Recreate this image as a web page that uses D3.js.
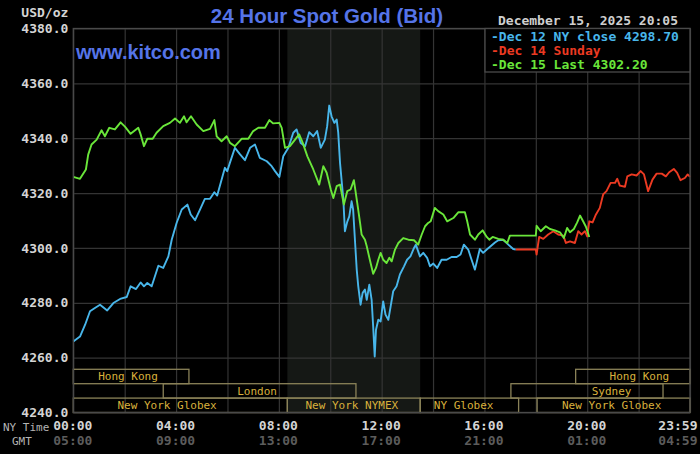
<!DOCTYPE html>
<html>
<head>
<meta charset="utf-8">
<title>24 Hour Spot Gold (Bid)</title>
<script src="https://d3js.org/d3.v7.min.js"></script>
<style>
  html, body { margin: 0; padding: 0; background: #000; }
  svg { display: block; }
</style>
</head>
<body>
<div id="chart"></div>
<script>
// values: [hour of NY day, price]
var dec12 = [
  [0, 4265.9], [0.26, 4267.7], [0.46, 4272.0], [0.65, 4276.9], [0.84, 4278.1], [1.04, 4279.3],
  [1.32, 4277.2], [1.56, 4279.9], [1.82, 4281.4], [2.08, 4282.1], [2.23, 4286.0], [2.44, 4285.0],
  [2.62, 4287.4], [2.75, 4286.0], [2.88, 4287.2], [3.05, 4286.0], [3.31, 4293.5], [3.50, 4292.7],
  [3.70, 4296.9], [3.83, 4303.0], [4.02, 4309.1], [4.22, 4314.0], [4.44, 4315.8], [4.57, 4312.2],
  [4.74, 4310.1], [4.93, 4314.0], [5.12, 4317.9], [5.32, 4317.9], [5.49, 4320.3], [5.60, 4319.1],
  [5.77, 4324.9], [5.90, 4329.2], [5.99, 4328.0], [6.10, 4331.2], [6.29, 4336.5], [6.49, 4334.1],
  [6.68, 4332.0], [6.88, 4336.5], [7.07, 4337.7], [7.26, 4332.8], [7.53, 4331.6], [7.72, 4329.8],
  [7.85, 4328.0], [8.02, 4325.9], [8.17, 4333.4], [8.37, 4336.5], [8.56, 4342.0], [8.69, 4343.2],
  [8.85, 4338.3], [9.02, 4337.1], [9.18, 4342.2], [9.34, 4340.7], [9.49, 4342.6], [9.63, 4336.5],
  [9.79, 4339.5], [9.88, 4344.4], [9.96, 4351.9], [10.05, 4348.0], [10.16, 4345.6], [10.25, 4346.8],
  [10.31, 4342.0], [10.38, 4331.0], [10.51, 4317.6], [10.57, 4306.1], [10.66, 4309.5], [10.74, 4311.5],
  [10.83, 4317.0], [10.89, 4314.0], [10.96, 4303.0], [11.03, 4292.1], [11.09, 4286.0], [11.18, 4279.3],
  [11.26, 4283.6], [11.35, 4284.8], [11.42, 4281.1], [11.52, 4286.6], [11.61, 4281.1], [11.67, 4271.4],
  [11.73, 4260.4], [11.78, 4270.2], [11.87, 4273.8], [11.96, 4273.2], [12.06, 4280.5], [12.15, 4275.7],
  [12.26, 4273.8], [12.35, 4278.7], [12.45, 4284.2], [12.58, 4286.0], [12.71, 4290.3], [12.87, 4293.3],
  [12.99, 4295.7], [13.12, 4296.9], [13.26, 4300.0], [13.33, 4301.2], [13.49, 4296.9], [13.62, 4298.2],
  [13.77, 4296.4], [13.88, 4293.3], [14.01, 4294.3], [14.16, 4292.7], [14.33, 4295.7], [14.53, 4295.7],
  [14.72, 4296.7], [14.92, 4296.7], [15.07, 4297.6], [15.20, 4301.2], [15.37, 4299.4], [15.50, 4295.7],
  [15.63, 4292.1], [15.72, 4295.7], [15.82, 4299.6], [15.95, 4298.2], [16.09, 4299.4], [16.24, 4300.6],
  [16.41, 4302.0], [16.54, 4302.8], [16.73, 4303.0], [16.93, 4301.2], [17.12, 4299.6], [17.22, 4299.4]
];

var dec14 = [
  [17.22, 4299.4], [18.00, 4299.4], [18.03, 4297.6], [18.13, 4304.0], [18.29, 4303.3], [18.48, 4304.9],
  [18.68, 4306.1], [18.87, 4304.9], [19.07, 4304.5], [19.17, 4301.8], [19.33, 4302.4], [19.52, 4301.8],
  [19.65, 4306.1], [19.78, 4304.9], [19.91, 4306.1], [20.00, 4304.2], [20.08, 4309.7], [20.21, 4309.3],
  [20.34, 4312.2], [20.49, 4314.6], [20.62, 4319.5], [20.75, 4320.7], [20.91, 4323.7], [21.08, 4323.7],
  [21.17, 4325.2], [21.27, 4322.7], [21.47, 4322.3], [21.56, 4326.1], [21.73, 4326.8], [21.92, 4326.4],
  [22.08, 4328.0], [22.21, 4326.8], [22.37, 4320.7], [22.54, 4324.9], [22.70, 4327.1], [22.90, 4327.1],
  [23.06, 4326.1], [23.19, 4327.6], [23.37, 4328.8], [23.50, 4327.4], [23.63, 4324.7], [23.80, 4325.5],
  [23.91, 4326.8], [24.0, 4325.9]
];

var dec15 = [
  [0, 4325.9], [0.26, 4325.2], [0.49, 4328.6], [0.58, 4334.0], [0.71, 4337.7], [0.91, 4339.5],
  [1.10, 4342.9], [1.23, 4340.7], [1.40, 4343.8], [1.62, 4343.2], [1.84, 4345.8], [2.01, 4344.2],
  [2.23, 4341.6], [2.53, 4343.8], [2.62, 4341.4], [2.75, 4337.1], [2.88, 4339.8], [3.09, 4339.8],
  [3.24, 4342.0], [3.50, 4344.4], [3.76, 4345.6], [3.96, 4347.2], [4.15, 4345.6], [4.31, 4348.0],
  [4.41, 4345.8], [4.58, 4348.0], [4.80, 4345.0], [5.06, 4342.6], [5.32, 4343.4], [5.49, 4346.6],
  [5.58, 4340.7], [5.77, 4338.9], [5.97, 4340.7], [6.10, 4338.3], [6.29, 4337.1], [6.55, 4339.8],
  [6.81, 4339.8], [7.00, 4342.6], [7.20, 4343.8], [7.46, 4343.8], [7.63, 4346.6], [7.78, 4345.4],
  [8.02, 4345.6], [8.11, 4343.8], [8.24, 4336.5], [8.43, 4337.1], [8.63, 4339.5], [8.79, 4341.4],
  [8.93, 4338.3], [9.11, 4333.4], [9.34, 4328.6], [9.57, 4323.1], [9.73, 4329.8], [9.86, 4327.4],
  [10.02, 4321.3], [10.12, 4318.2], [10.25, 4322.5], [10.38, 4323.1], [10.53, 4315.8], [10.66, 4320.7],
  [10.79, 4321.3], [10.92, 4324.7], [11.05, 4316.4], [11.16, 4309.1], [11.22, 4304.9], [11.35, 4303.0],
  [11.42, 4300.6], [11.54, 4295.7], [11.67, 4290.6], [11.78, 4292.7], [11.87, 4295.7], [11.96, 4298.2],
  [12.06, 4295.7], [12.19, 4294.5], [12.30, 4296.4], [12.39, 4295.1], [12.52, 4299.4], [12.65, 4301.8],
  [12.84, 4303.6], [13.04, 4303.0], [13.26, 4302.8], [13.42, 4301.2], [13.56, 4304.9], [13.69, 4307.9],
  [13.81, 4309.1], [13.91, 4309.7], [14.07, 4314.6], [14.20, 4313.4], [14.40, 4312.2], [14.55, 4309.7],
  [14.79, 4310.9], [14.98, 4313.0], [15.24, 4313.0], [15.33, 4309.7], [15.44, 4304.9], [15.63, 4303.0],
  [15.76, 4304.9], [15.93, 4306.4], [16.09, 4304.0], [16.19, 4303.0], [16.32, 4304.0], [16.54, 4303.3],
  [16.73, 4303.0], [16.89, 4301.8], [16.99, 4304.5], [18.00, 4304.5], [18.03, 4308.1], [18.19, 4306.1],
  [18.39, 4307.9], [18.55, 4306.9], [18.74, 4306.4], [18.94, 4305.7], [19.09, 4303.6], [19.22, 4307.3],
  [19.33, 4305.7], [19.48, 4306.9], [19.61, 4309.3], [19.72, 4311.8], [19.84, 4309.7], [19.95, 4307.7],
  [20.08, 4304.0]
];

var legendLabels = ["Dec 12 NY close 4298.70", "Dec 14 Sunday", "Dec 15 Last 4302.20"];
var nyTimeTicks = [0, 4, 8, 12, 16, 20, 24];
var nyTimeLabels = ["00:00", "04:00", "08:00", "12:00", "16:00", "20:00", "23:59"];
var gmtLabels = ["05:00", "09:00", "13:00", "17:00", "21:00", "01:00", "04:59"];
var priceTicks = [4240, 4260, 4280, 4300, 4320, 4340, 4360, 4380];

// trading sessions: row, start hour, end hour, name, hour the name is centred on
var sessions = [
  [0, 0, 4.5, "Hong Kong", 2.13],
  [0, 19.55, 24, "Hong Kong", 22.03],
  [1, 3.5, 11.0, "London", 7.15],
  [1, 17.03, 22.95, "Sydney", 20.95],
  [2, 0, 8.33, "New York Globex", 3.65],
  [2, 8.33, 13.5, "New York NYMEX", 10.84],
  [2, 13.5, 17.33, "NY Globex", 15.19],
  [2, 18.05, 24, "New York Globex", 20.95]
];
var nymexHours = [8.33, 13.5];

var width = 700, height = 454;
var plotL = 73.3, plotR = 690, plotT = 28.5, plotB = 412.5;
var mono = "'DejaVu Sans Mono', monospace";
var lineColors = ["#48b6ea", "#ec3a22", "#6ae63a"];

var svg = d3.select("#chart").append("svg")
  .attr("width", width)
  .attr("height", height)
  .style("background", "#000");

var x = d3.scaleLinear().domain([0, 24]).range([plotL, plotR]);
var y = d3.scaleLinear().domain([4240, 4380]).range([plotB, plotT]);

// NYMEX session shading
svg.append("rect")
  .attr("x", x(nymexHours[0]))
  .attr("y", plotT)
  .attr("width", x(nymexHours[1]) - x(nymexHours[0]))
  .attr("height", plotB - plotT)
  .attr("fill", "#151815");

// grid
var xGrid = svg.append("g")
  .attr("transform", "translate(0," + plotB + ")")
  .call(d3.axisBottom(x).tickValues(d3.range(0, 25, 2)).tickSize(-(plotB - plotT)).tickFormat(""));
var yGrid = svg.append("g")
  .attr("transform", "translate(" + plotL + ",0)")
  .call(d3.axisLeft(y).tickValues(priceTicks).tickSize(-(plotR - plotL)).tickFormat(""));
[xGrid, yGrid].forEach(function (g) {
  g.select(".domain").remove();
  g.selectAll(".tick line").attr("stroke", "#343434").attr("stroke-width", 1.2);
});

// session bars
var rowTop = 369.3, rowH = 14.4;
var sess = svg.append("g");
sess.selectAll("rect")
  .data(sessions)
  .enter().append("rect")
  .attr("x", function (d) { return x(d[1]); })
  .attr("y", function (d) { return rowTop + d[0] * rowH; })
  .attr("width", function (d) { return x(d[2]) - x(d[1]); })
  .attr("height", rowH)
  .attr("fill", "none")
  .attr("stroke", "#8a8258")
  .attr("stroke-width", 1.3);
sess.selectAll("text")
  .data(sessions)
  .enter().append("text")
  .attr("x", function (d) { return x(d[4]); })
  .attr("y", function (d) { return rowTop + (d[0] + 1) * rowH - 3.6; })
  .attr("text-anchor", "middle")
  .attr("font-family", mono)
  .attr("font-size", "11px")
  .attr("fill", "#d9b13c")
  .text(function (d) { return d[3]; });

// price lines
var line = d3.line()
  .x(function (d) { return x(d[0]); })
  .y(function (d) { return y(d[1]); });
[dec12, dec14, dec15].forEach(function (s, i) {
  svg.append("path")
    .datum(s)
    .attr("d", line)
    .attr("fill", "none")
    .attr("stroke", lineColors[i])
    .attr("stroke-width", 1.9)
    .attr("stroke-linejoin", "round");
});

// plot frame
svg.append("rect")
  .attr("x", plotL).attr("y", plotT)
  .attr("width", plotR - plotL).attr("height", plotB - plotT)
  .attr("fill", "none")
  .attr("stroke", "#4a4a4a")
  .attr("stroke-width", 1.3);

// y axis labels
var yAxis = svg.append("g")
  .attr("transform", "translate(" + (plotL - 5) + ",0)")
  .call(d3.axisLeft(y).tickValues(priceTicks).tickSize(0).tickPadding(0).tickFormat(d3.format(".1f")));
yAxis.select(".domain").remove();
yAxis.selectAll("text")
  .attr("font-family", mono)
  .attr("font-size", "13px")
  .attr("font-weight", "bold")
  .attr("fill", "#d4d4d4");

svg.append("text")
  .attr("x", plotL - 5).attr("y", 16.5)
  .attr("text-anchor", "end")
  .attr("font-family", mono).attr("font-size", "13px").attr("font-weight", "bold")
  .attr("fill", "#d4d4d4")
  .text("USD/oz");

// x axis labels (NY time and GMT)
function timeAxis(labels, dy, color) {
  var g = svg.append("g")
    .attr("transform", "translate(-1," + (plotB + dy) + ")")
    .call(d3.axisBottom(x).tickValues(nyTimeTicks).tickSize(0).tickPadding(0)
      .tickFormat(function (d, i) { return labels[i]; }));
  g.select(".domain").remove();
  g.selectAll("text")
    .attr("dy", 0)
    .attr("font-family", mono)
    .attr("font-size", "13px")
    .attr("font-weight", "bold")
    .attr("fill", color);
  g.selectAll(".tick").filter(function (d) { return d === 24; })
    .select("text").attr("text-anchor", "end").attr("x", 8);
}
timeAxis(nyTimeLabels, 17.5, "#d4d4d4");
timeAxis(gmtLabels, 32.5, "#5c5c5c");

svg.append("text")
  .attr("x", 3).attr("y", 431)
  .attr("font-family", mono).attr("font-size", "11px")
  .attr("fill", "#b4b4b4")
  .text("NY Time");
svg.append("text")
  .attr("x", 12).attr("y", 445)
  .attr("font-family", mono).attr("font-size", "11px")
  .attr("fill", "#b4b4b4")
  .text("GMT");

// titles
svg.append("text")
  .attr("x", 327).attr("y", 22.5)
  .attr("text-anchor", "middle")
  .attr("font-family", "'Liberation Sans', Arial, sans-serif")
  .attr("font-size", "20.5px")
  .attr("font-weight", "bold")
  .attr("fill", "#5574e8")
  .text("24 Hour Spot Gold (Bid)");

svg.append("text")
  .attr("x", 76).attr("y", 59)
  .attr("font-family", "'Liberation Sans', Arial, sans-serif")
  .attr("font-size", "20px")
  .attr("font-weight", "bold")
  .attr("fill", "#5574e8")
  .text("www.kitco.com");

svg.append("text")
  .attr("x", 678).attr("y", 24.5)
  .attr("text-anchor", "end")
  .attr("font-family", mono).attr("font-size", "13px").attr("font-weight", "bold")
  .attr("fill", "#cfcfcf")
  .text("December 15, 2025 20:05");

// legend
svg.append("rect")
  .attr("x", 485).attr("y", plotT)
  .attr("width", plotR - 485).attr("height", 43.5)
  .attr("fill", "#000")
  .attr("stroke", "#4a4a4a")
  .attr("stroke-width", 1.3);
svg.append("g").selectAll("text")
  .data(legendLabels)
  .enter().append("text")
  .attr("x", 491)
  .attr("y", function (d, i) { return 40.5 + i * 14; })
  .attr("font-family", mono).attr("font-size", "13px").attr("font-weight", "bold")
  .attr("fill", function (d, i) { return lineColors[i]; })
  .text(function (d) { return "-" + d; });
</script>
</body>
</html>
